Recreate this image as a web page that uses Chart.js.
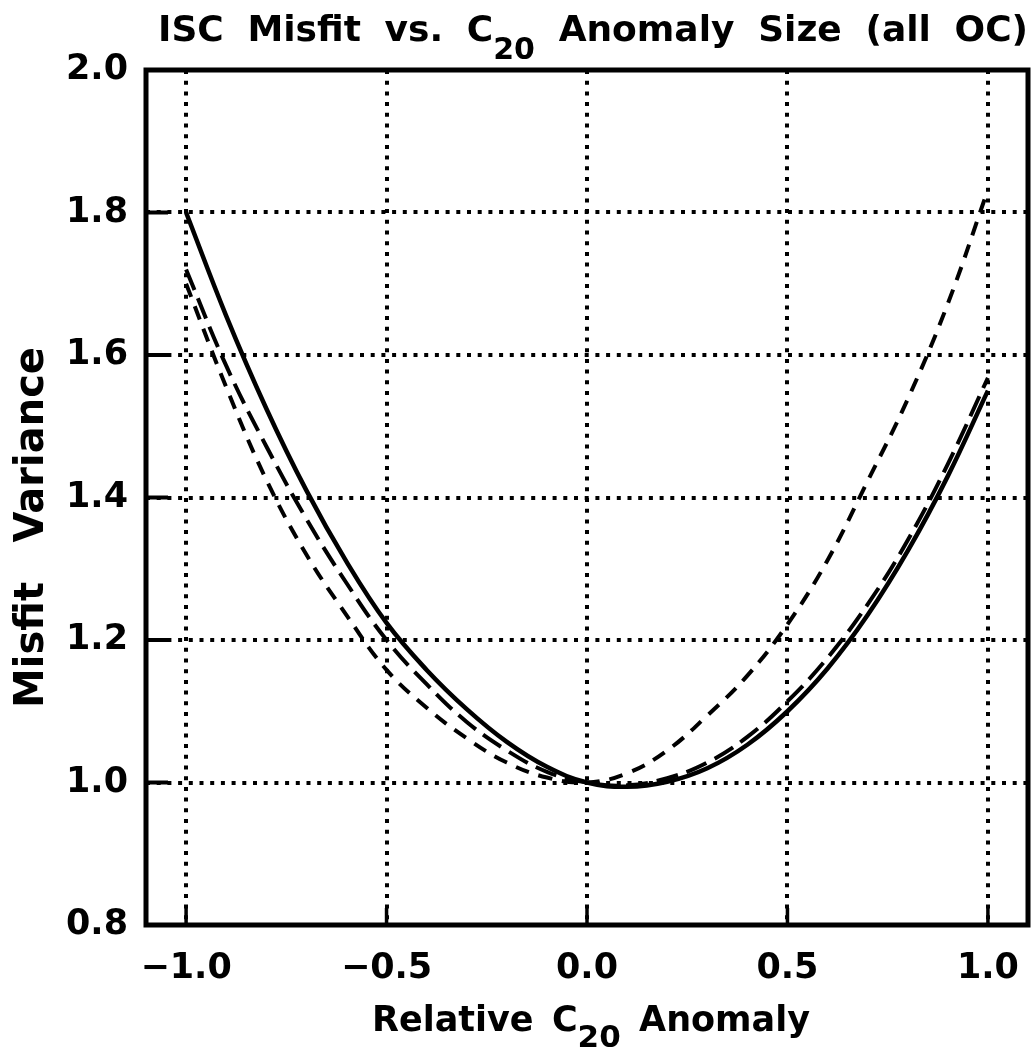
<!DOCTYPE html>
<html>
<head>
<meta charset="utf-8">
<title>ISC Misfit vs. C20 Anomaly Size</title>
<script src="https://cdn.jsdelivr.net/npm/chart.js@4.4.1/dist/chart.umd.min.js"></script>
<style>
    html, body { margin: 0; padding: 0; background: #fff; }
    #wrap { width: 1032px; height: 1051px; }
</style>
</head>
<body>
<div id="wrap"><canvas id="misfitChart" width="1032" height="1051"></canvas></div>
<script>
// Relative C20 anomaly (x) and misfit variance for the three runs
const anomaly = [-1.0, -0.9, -0.8, -0.7, -0.6, -0.5, -0.4, -0.3, -0.2, -0.1, 0.0,
                 0.1, 0.2, 0.3, 0.4, 0.5, 0.6, 0.7, 0.8, 0.9, 1.0];
const misfitSolid = [1.800, 1.655, 1.525, 1.410, 1.310, 1.224, 1.158, 1.103, 1.057, 1.022, 1.000,
                     0.994, 1.001, 1.020, 1.053, 1.100, 1.160, 1.235, 1.325, 1.430, 1.550];
const misfitLongDash = [1.720, 1.585, 1.472, 1.370, 1.280, 1.200, 1.138, 1.085, 1.045, 1.015, 1.000,
                        0.996, 1.006, 1.028, 1.064, 1.114, 1.175, 1.250, 1.340, 1.447, 1.568];
const misfitShortDash = [1.700, 1.555, 1.425, 1.320, 1.235, 1.158, 1.105, 1.062, 1.028, 1.007, 1.000,
                         1.013, 1.045, 1.094, 1.150, 1.222, 1.312, 1.423, 1.538, 1.672, 1.832];

const xTickValues = [-1.0, -0.5, 0.0, 0.5, 1.0];
const yTickValues = [0.8, 1.0, 1.2, 1.4, 1.6, 1.8, 2.0];

// words of each title; [text, isSubscript]
const titleWords = [[['ISC']], [['Misfit']], [['vs.']], [['C'], ['20', true]],
                    [['Anomaly']], [['Size']], [['(all']], [['OC)']]];
const xTitleWords = [[['Relative']], [['C'], ['20', true]], [['Anomaly']]];
const yTitleWords = [[['Misfit']], [['Variance']]];

const FONT = '"DejaVu Sans", sans-serif';

const fmt = v => (v < 0 ? '\u2212' : '') + Math.abs(v).toFixed(1);

// spread words evenly between x0 and x1, subscripts dropped below the baseline
function drawWords(ctx, words, x0, x1, baseline, size, subSize, subDrop) {
    const setFont = seg => { ctx.font = `bold ${seg[1] ? subSize : size}px ${FONT}`; };
    const segWidth = seg => { setFont(seg); return ctx.measureText(seg[0]).width; };
    const widths = words.map(w => w.reduce((s, seg) => s + segWidth(seg), 0));
    const total = widths.reduce((a, b) => a + b, 0);
    const gap = (x1 - x0 - total) / (words.length - 1);
    let x = x0;
    words.forEach(w => {
        w.forEach(seg => {
            setFont(seg);
            ctx.fillText(seg[0], x, seg[1] ? baseline + subDrop : baseline);
            x += ctx.measureText(seg[0]).width;
        });
        x += gap;
    });
}

const framePlugin = {
    id: 'frame',
    afterDatasetsDraw(chart) {
        const { ctx, chartArea: a } = chart;
        const xs = chart.scales.x, ys = chart.scales.y;
        ctx.save();
        ctx.strokeStyle = '#000';
        ctx.lineCap = 'butt';
        // inward tick marks
        ctx.lineWidth = 4;
        yTickValues.forEach(v => {
            if (v <= 0.8 || v >= 2.0) return;
            const y = ys.getPixelForValue(v);
            ctx.beginPath();
            ctx.moveTo(a.left, y);
            ctx.lineTo(a.left + 22, y);
            ctx.stroke();
        });
        ctx.lineWidth = 3.5;
        xTickValues.forEach(v => {
            const x = xs.getPixelForValue(v);
            ctx.beginPath();
            ctx.moveTo(x, a.bottom);
            ctx.lineTo(x, a.bottom - 17);
            ctx.stroke();
        });
        // box
        ctx.lineWidth = 5;
        ctx.strokeRect(a.left, a.top, a.right - a.left, a.bottom - a.top);
        ctx.restore();
    },
    afterDraw(chart) {
        const ctx = chart.ctx;
        ctx.save();
        ctx.fillStyle = '#000';
        ctx.textAlign = 'left';
        ctx.textBaseline = 'alphabetic';
        drawWords(ctx, titleWords, 158, 1028, 41, 36, 30, 18);
        drawWords(ctx, xTitleWords, 372, 810, 1031, 35, 31, 16);
        ctx.translate(43, 708);
        ctx.rotate(-Math.PI / 2);
        drawWords(ctx, yTitleWords, 0, 361, 0, 40, 32, 16);
        ctx.restore();
    }
};

const lineSet = (values, dash, width) => ({
    data: anomaly.map((x, i) => ({ x: x, y: values[i] })),
    borderColor: '#000',
    borderWidth: width,
    borderDash: dash,
    pointRadius: 0,
    tension: 0.4,
    fill: false
});

const tickFont = { family: FONT, size: 35, weight: 'bold' };

new Chart(document.getElementById('misfitChart'), {
    type: 'line',
    data: {
        datasets: [
            lineSet(misfitSolid, [], 4.5),
            lineSet(misfitLongDash, [22, 9], 4),
            lineSet(misfitShortDash, [14, 10], 4)
        ]
    },
    options: {
        responsive: false,
        animation: false,
        devicePixelRatio: 1,
        layout: { padding: { top: 70, right: 4, bottom: 0, left: 0 } },
        plugins: {
            legend: { display: false },
            tooltip: { enabled: false },
            title: { display: false }
        },
        scales: {
            x: {
                type: 'linear',
                min: -1.1,
                max: 1.1,
                afterBuildTicks: scale => { scale.ticks = xTickValues.map(v => ({ value: v })); },
                afterFit: scale => {
                    scale.height = 126;
                    scale.paddingLeft = 0;
                    scale.paddingRight = 0;
                },
                ticks: {
                    color: '#000',
                    font: tickFont,
                    padding: 23,
                    maxRotation: 0,
                    autoSkip: false,
                    callback: v => fmt(v)
                },
                grid: { color: '#000', lineWidth: 4, drawTicks: false },
                border: { display: false, dash: [4, 6.7] }
            },
            y: {
                type: 'linear',
                min: 0.8,
                max: 2.0,
                afterBuildTicks: scale => { scale.ticks = yTickValues.map(v => ({ value: v })); },
                afterFit: scale => { scale.width = 146; },
                ticks: {
                    color: '#000',
                    font: tickFont,
                    padding: 18,
                    autoSkip: false,
                    callback: v => fmt(v)
                },
                grid: {
                    color: c => (c.tick && (c.tick.value < 0.81 || c.tick.value > 1.99)) ? 'rgba(0,0,0,0)' : '#000',
                    lineWidth: 4,
                    drawTicks: false
                },
                border: { display: false, dash: [4, 6.7] }
            }
        }
    },
    plugins: [framePlugin]
});
</script>
</body>
</html>
